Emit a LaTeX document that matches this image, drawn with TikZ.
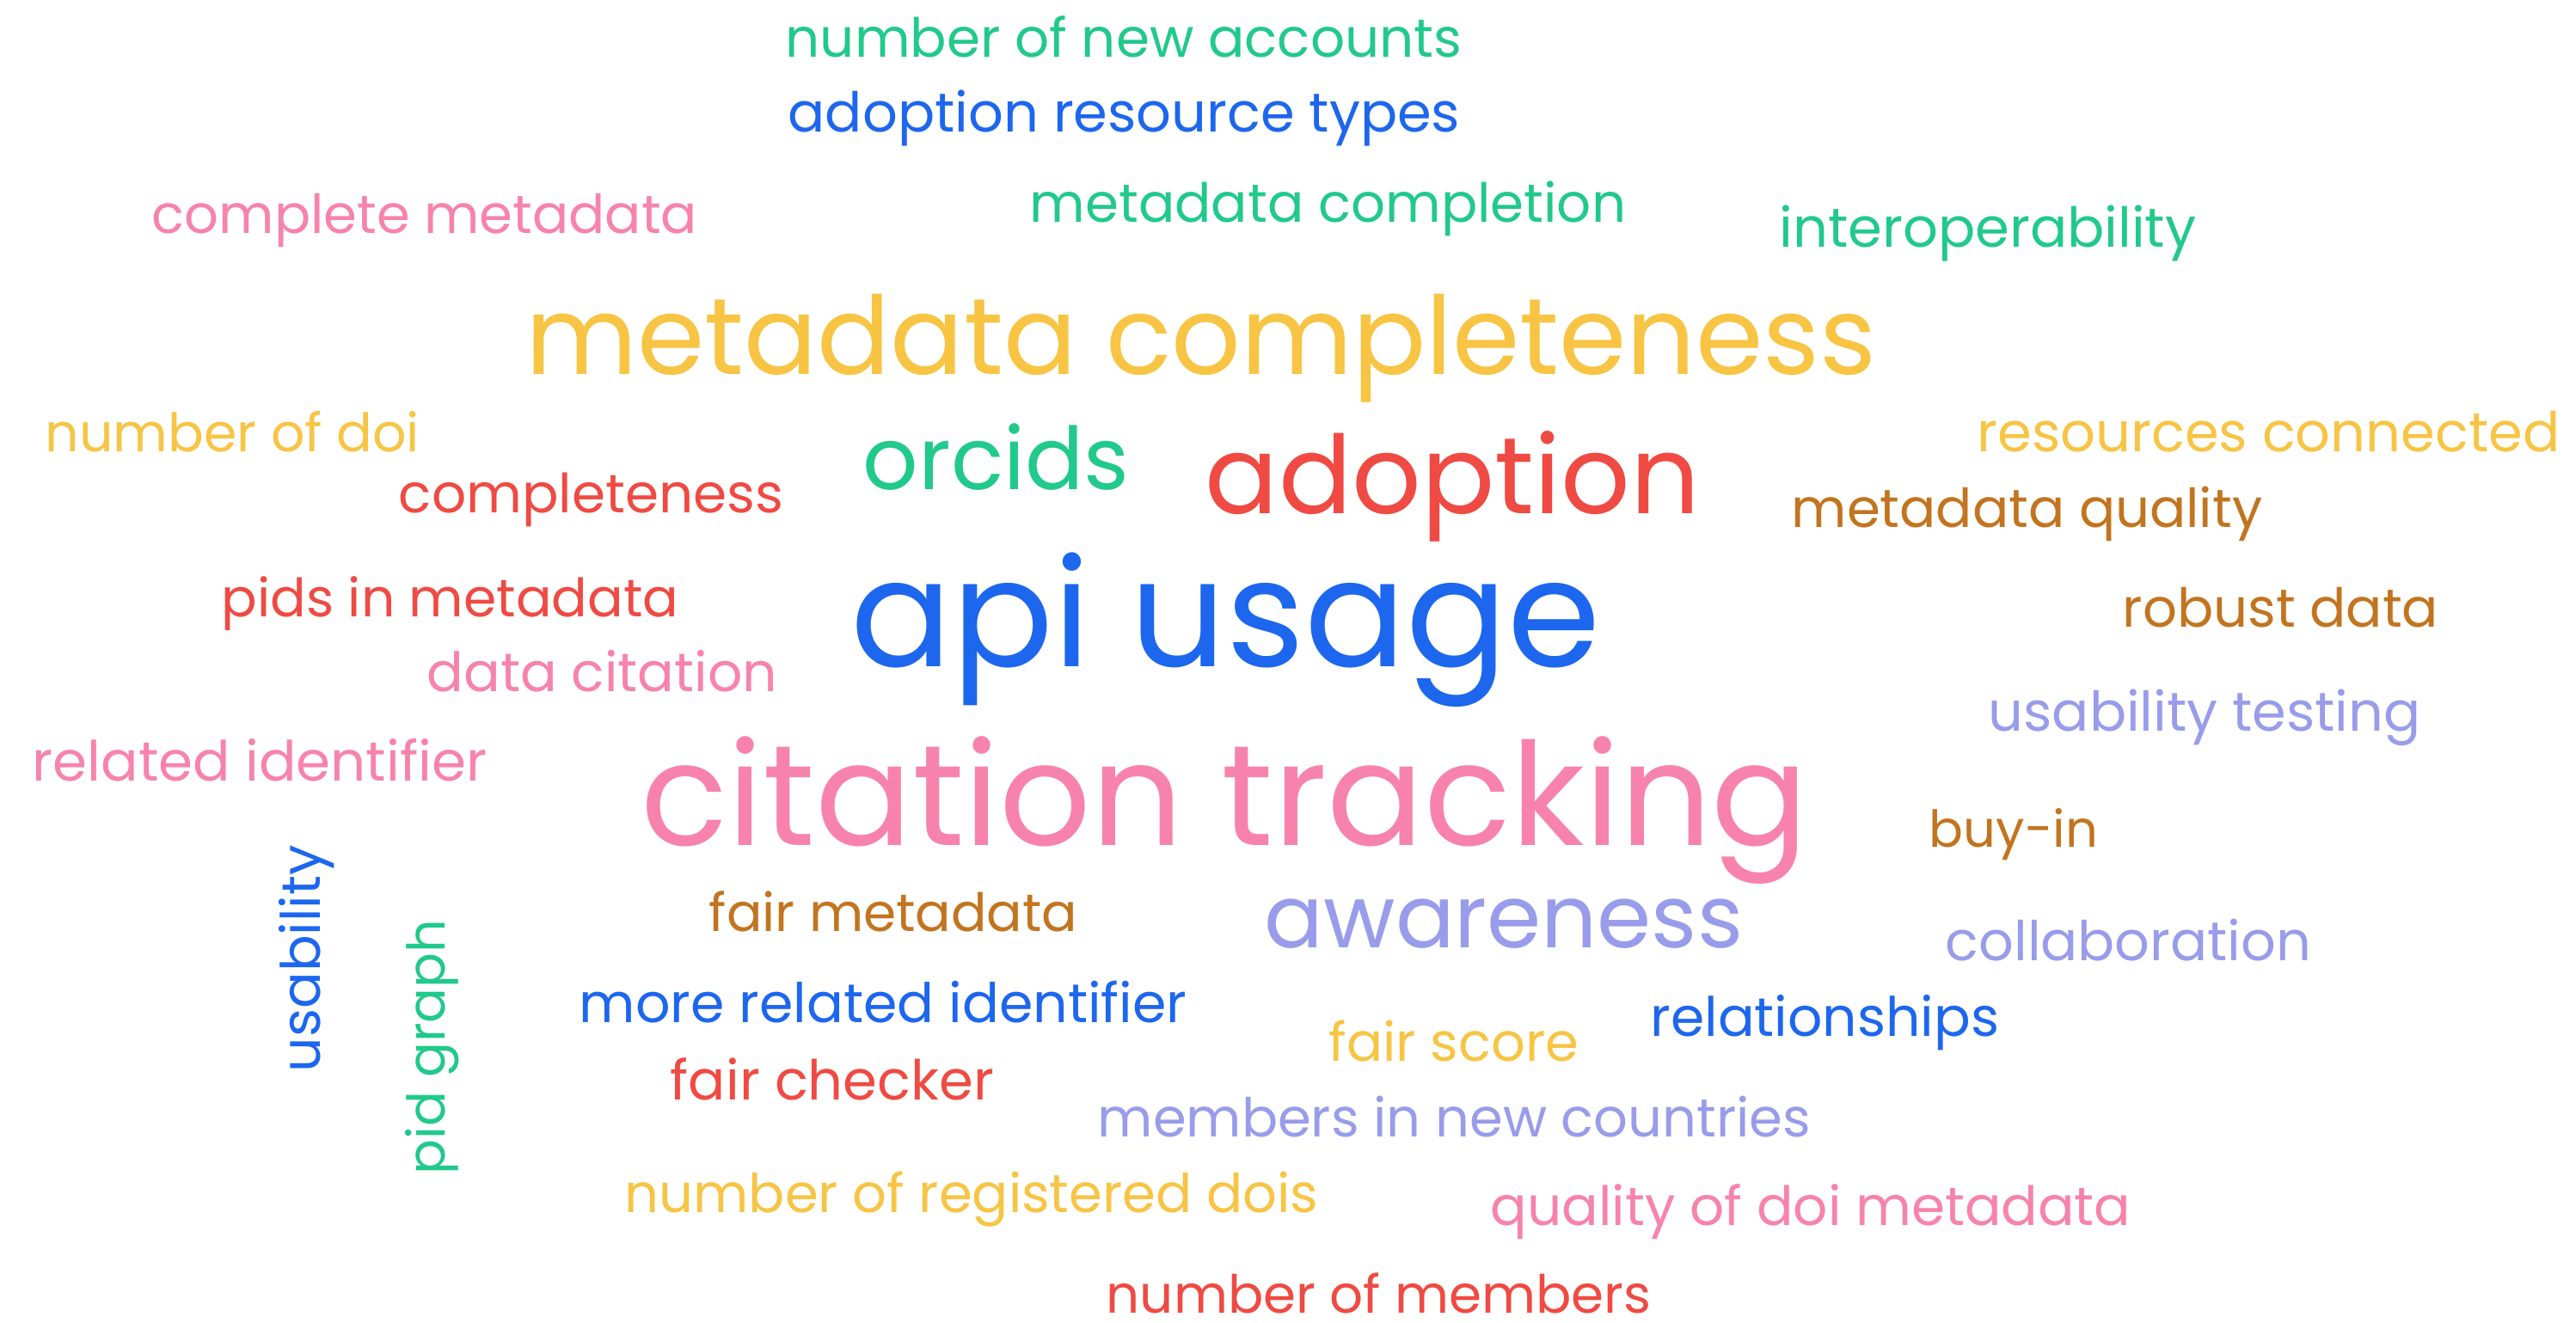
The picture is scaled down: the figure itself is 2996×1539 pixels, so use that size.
\documentclass[tikz,border=0pt]{standalone}
\usepackage{fontspec}
\setmainfont{Poppins}
\usepackage{graphicx}
\definecolor{cgreen}{HTML}{21C98B}
\definecolor{cblue}{HTML}{1D66EE}
\definecolor{cpink}{HTML}{F783AC}
\definecolor{cyellow}{HTML}{F7C444}
\definecolor{cred}{HTML}{EF4A43}
\definecolor{cbrown}{HTML}{C2741F}
\definecolor{clav}{HTML}{989CEA}
\newcommand\cw[6]{\node[word,text=#2] (#1) at (#3,#4) {\resizebox{#5cm}{!}{#6}};}
\newcommand\cwr[6]{\node[word,text=#2,rotate=90] (#1) at (#3,#4) {\resizebox{#5cm}{!}{#6}};}
\begin{document}
\begin{tikzpicture}[x=0.01cm,y=-0.01cm,word/.style={inner sep=0pt,outer sep=0pt,anchor=base}]
\useasboundingbox (0,0) rectangle (2996,1539);
\cw{nna}{cgreen}{1307}{66}{7.86}{number of new accounts}
\cw{art}{cblue}{1307.5}{153}{7.81}{adoption resource types}
\cw{cm}{cpink}{494}{271}{6.34}{complete metadata}
\cw{mcn}{cgreen}{1544.5}{258}{6.93}{metadata completion}
\cw{int}{cgreen}{2312}{287}{4.84}{interoperability}
\cw{mcs}{cyellow}{1397}{435}{15.70}{metadata completeness}
\cw{nod}{cyellow}{270.5}{525}{4.35}{number of doi}
\cw{orc}{cgreen}{1158.5}{569}{3.09}{orcids}
\cw{ado}{cred}{1689.5}{597}{5.75}{adoption}
\cw{rc}{cyellow}{2638.5}{525}{6.77}{resources connected}
\cw{cmp}{cred}{687.5}{596}{4.47}{completeness}
\cw{mq}{cbrown}{2357.5}{613}{5.47}{metadata quality}
\cw{pim}{cred}{523.5}{717}{5.31}{pids in metadata}
\cw{api}{cblue}{1425.5}{775}{8.71}{api usage}
\cw{rd}{cbrown}{2652.5}{729}{3.67}{robust data}
\cw{dc}{cpink}{700.5}{804}{4.07}{data citation}
\cw{ut}{clav}{2564}{850}{5.02}{usability testing}
\cw{ri}{cpink}{302}{908}{5.28}{related identifier}
\cw{ct}{cpink}{1424.5}{983}{13.57}{citation tracking}
\cw{bi}{cbrown}{2342}{985}{1.96}{buy-in}
\cwr{us}{cblue}{372}{1115}{2.64}{usability}
\cwr{pg}{cgreen}{517}{1218}{2.97}{pid graph}
\cw{fm}{cbrown}{1039}{1083}{4.28}{fair metadata}
\cw{aw}{clav}{1749}{1102}{5.56}{awareness}
\cw{col}{clav}{2475.5}{1117}{4.25}{collaboration}
\cw{mri}{cblue}{1027}{1189}{7.06}{more related identifier}
\cw{rel}{cblue}{2122.5}{1205}{4.05}{relationships}
\cw{fs}{cyellow}{1691}{1234}{2.90}{fair score}
\cw{fc}{cred}{968}{1279}{3.76}{fair checker}
\cw{mnc}{clav}{1691.5}{1322}{8.29}{members in new countries}
\cw{nrd}{cyellow}{1130}{1410}{8.06}{number of registered dois}
\cw{qdm}{cpink}{2106}{1425}{7.44}{quality of doi metadata}
\cw{nom}{cred}{1603.5}{1527}{6.33}{number of members}
\end{tikzpicture}
\end{document}
